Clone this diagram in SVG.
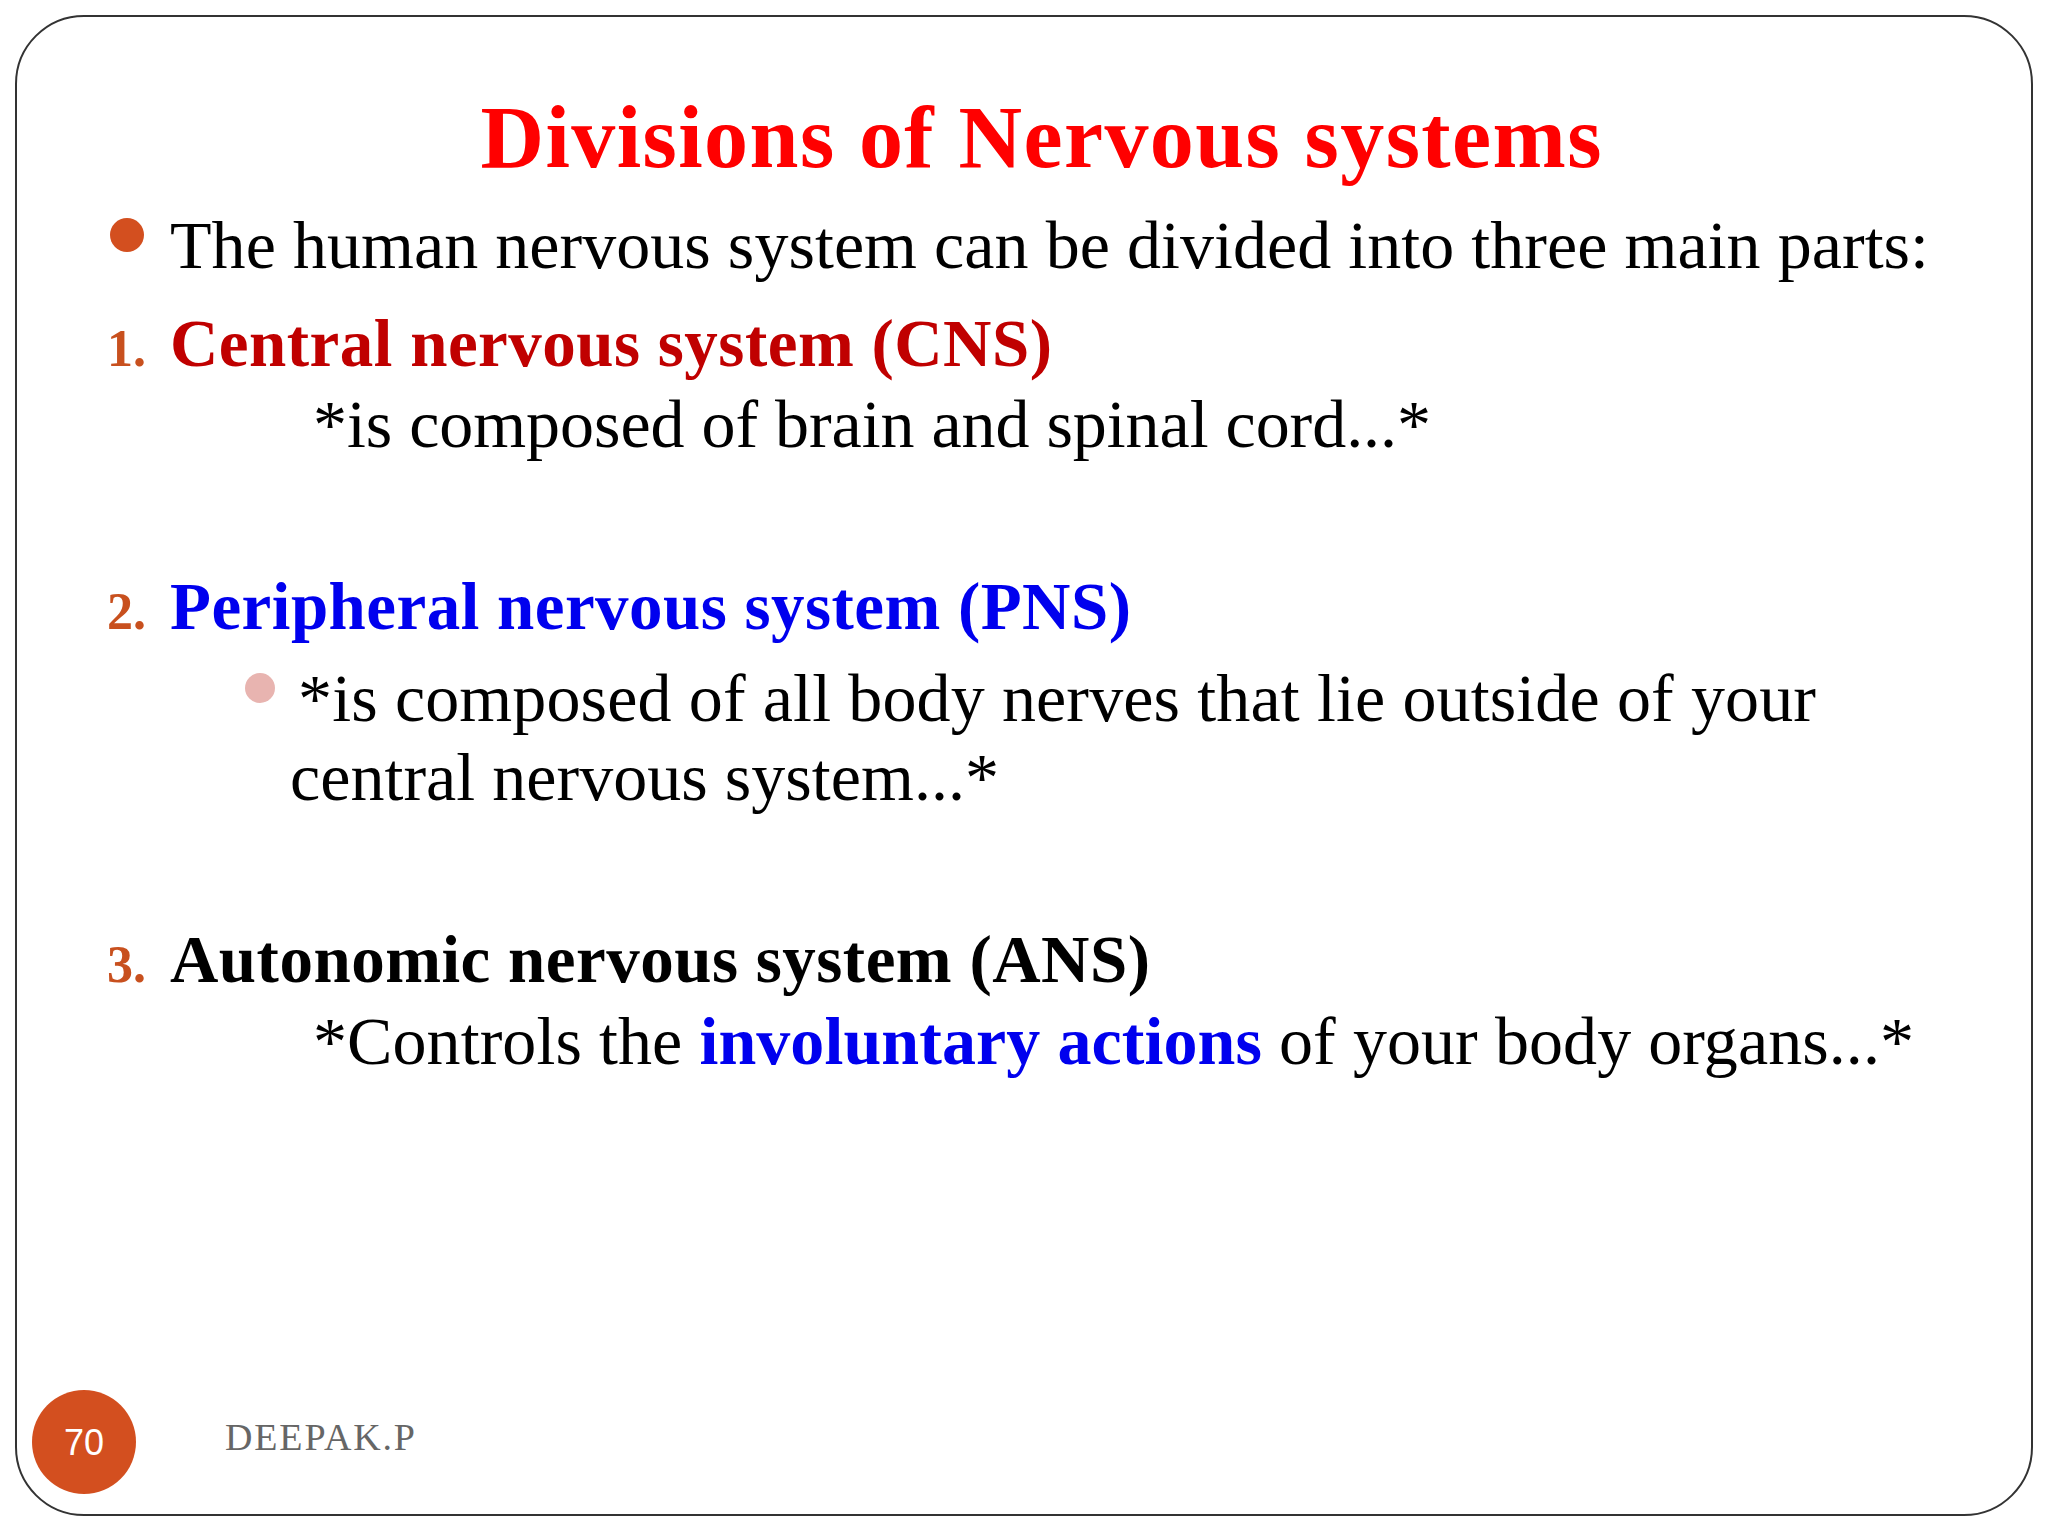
<svg xmlns="http://www.w3.org/2000/svg" width="2048" height="1536" viewBox="0 0 2048 1536">
<style>
text{font-family:"Liberation Serif","Times New Roman",serif}
.b{font-size:68px;fill:#000}
.h{font-size:67px;font-weight:bold}
.n{font-size:52px;font-weight:bold;fill:#c8501e}
</style>
<rect width="2048" height="1536" fill="#fff"/>
<rect x="16" y="16" width="2016" height="1499" rx="68" ry="68" fill="#fff" stroke="#333" stroke-width="2"/>
<g id="title"><text x="1041" y="167" text-anchor="middle" font-size="88" font-weight="bold" fill="#ff0000" textLength="1121">Divisions of Nervous systems</text></g>
<g id="intro"><circle cx="127" cy="235" r="17" fill="#d34f1f"/>
<text class="b" x="170" y="268" textLength="1759">The human nervous system can be divided into three main parts:</text></g>
<g id="cns"><text class="n" x="107" y="366">1.</text>
<text class="h" x="170" y="366" fill="#c00000" textLength="882">Central nervous system (CNS)</text>
<text class="b" x="313" y="447" textLength="1118">*is composed of brain and spinal cord...*</text></g>
<g id="pns"><text class="n" x="107" y="629">2.</text>
<text class="h" x="170" y="629" fill="#0000ee" textLength="961">Peripheral nervous system (PNS)</text>
<circle cx="260" cy="688" r="15" fill="#e8b4b0"/>
<text class="b" x="298" y="721" textLength="1518">*is composed of all body nerves that lie outside of your</text>
<text class="b" x="290" y="800" textLength="709">central nervous system...*</text></g>
<g id="ans"><text class="n" x="107" y="982">3.</text>
<text class="h" x="170" y="982" fill="#000" textLength="980">Autonomic nervous system (ANS)</text>
<text class="b" x="313" y="1064" textLength="1601">*Controls the <tspan font-weight="bold" fill="#0000ee">involuntary actions</tspan> of your body organs...*</text></g>
<g id="footer"><circle cx="84" cy="1442" r="52" fill="#d34f1f"/>
<text x="84" y="1455" text-anchor="middle" font-size="36" fill="#fff" style="font-family:'Liberation Sans',Arial,sans-serif">70</text>
<text x="225" y="1450" font-size="38" fill="#666" textLength="190">DEEPAK.P</text></g>
</svg>
